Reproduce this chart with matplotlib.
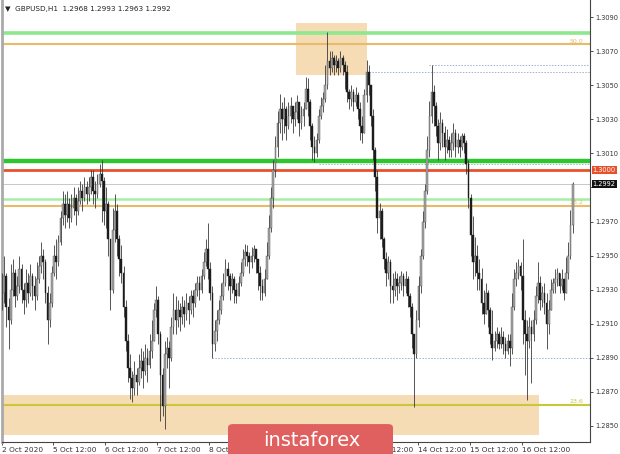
import numpy as np
import matplotlib.pyplot as plt
from matplotlib.patches import Rectangle, FancyBboxPatch

# GBPUSD H1, prices in pips above 1.2800
first_open = 128
closes = [128, 138, 120, 112, 130, 140, 126, 132, 142, 130,
          124, 134, 128, 138, 132, 126, 136, 144, 150, 146,
          128, 112, 122, 140, 150, 146, 158, 172, 180, 174,
          180, 172, 178, 184, 176, 182, 188, 184, 190, 186,
          190, 196, 188, 186, 192, 198, 194, 176, 180, 160,
          130, 165, 176, 160, 148, 140, 120, 100, 84, 78,
          72, 80, 76, 84, 88, 82, 90, 86, 94, 100,
          118, 124, 104, 80, 62, 92, 96, 90, 108, 118,
          112, 118, 114, 120, 116, 122, 118, 126, 122, 130,
          134, 130, 138, 146, 154, 142, 128, 98, 106, 112,
          118, 126, 134, 142, 138, 132, 136, 130, 126, 134,
          140, 148, 152, 150, 146, 150, 154, 148, 140, 132,
          128, 136, 150, 166, 184, 200, 214, 228, 236, 230,
          236, 226, 232, 238, 230, 234, 240, 228, 232, 236,
          248, 240, 226, 214, 210, 218, 232, 238, 242, 250,
          264, 260, 266, 262, 264, 260, 266, 262, 258, 246,
          242, 246, 240, 244, 236, 226, 222, 244, 258, 250,
          232, 212, 196, 172, 176, 160, 148, 140, 146, 132,
          130, 136, 132, 134, 138, 132, 136, 126, 120, 104,
          92, 112, 132, 150, 170, 188, 212, 232, 246, 238,
          226, 216, 228, 222, 214, 218, 212, 216, 222, 214,
          218, 214, 220, 216, 204, 184, 162, 146, 150, 140,
          136, 122, 116, 128, 118, 104, 96, 100, 104, 98,
          102, 98, 94, 100, 96, 120, 136, 140, 144, 138,
          112, 104, 100, 108, 104, 112, 126, 134, 124, 128,
          122, 110, 118, 130, 134, 136, 140, 132, 136, 128,
          140, 150, 168, 192]
highs = [140, 150, 140, 125, 145, 148, 142, 138, 150, 145,
         134, 142, 140, 145, 140, 138, 146, 150, 158, 154,
         148, 132, 128, 144, 156, 160, 162, 176, 188, 186,
         188, 184, 186, 190, 186, 190, 194, 192, 196, 194,
         196, 200, 200, 194, 198, 204, 206, 196, 190, 182,
         160, 178, 186, 180, 162, 156, 144, 124, 104, 92,
         82, 88, 84, 92, 96, 94, 98, 96, 104, 112,
         122, 132, 126, 106, 84, 100, 102, 100, 114, 128,
         126, 124, 122, 126, 124, 128, 126, 130, 130, 134,
         138, 138, 142, 152, 160, 169, 146, 132, 112, 118,
         124, 134, 140, 148, 146, 140, 140, 138, 134, 138,
         146, 154, 157, 156, 152, 155, 156, 154, 148, 144,
         136, 142, 158, 174, 190, 206, 220, 235, 245, 240,
         243, 238, 240, 243, 238, 240, 244, 240, 238, 240,
         255, 254, 242, 228, 220, 222, 236, 243, 246, 262,
         281, 270, 270, 268, 268, 266, 270, 268, 264, 262,
         248, 250, 248, 249, 246, 240, 232, 248, 265, 262,
         250, 236, 214, 200, 181, 178, 161, 152, 150, 148,
         140, 141, 140, 138, 141, 140, 141, 138, 128, 122,
         104, 118, 138, 154, 176, 192, 220, 241, 262, 250,
         240, 230, 234, 230, 226, 224, 220, 222, 228, 224,
         222, 220, 222, 222, 218, 206, 186, 173, 161, 156,
         148, 143, 130, 134, 130, 120, 118, 106, 108, 106,
         108, 106, 102, 104, 104, 128, 142, 146, 148, 146,
         160, 118, 112, 114, 112, 118, 132, 146, 138, 132,
         134, 128, 124, 136, 137, 142, 143, 140, 142, 134,
         149, 158, 177, 193]
lows = [118, 122, 108, 95, 110, 126, 120, 124, 128, 122,
        116, 120, 122, 126, 124, 118, 124, 134, 140, 136,
        122, 98, 108, 120, 138, 136, 144, 156, 168, 166,
        170, 166, 170, 174, 168, 174, 180, 176, 182, 180,
        182, 186, 180, 178, 184, 190, 170, 168, 166, 150,
        118, 128, 158, 150, 138, 134, 114, 94, 76, 66,
        64, 68, 68, 74, 78, 72, 80, 76, 84, 90,
        100, 114, 98, 53, 56, 48, 84, 72, 88, 104,
        104, 108, 106, 110, 108, 112, 110, 116, 114, 120,
        126, 124, 128, 136, 144, 136, 124, 90, 94, 100,
        110, 116, 124, 132, 130, 124, 128, 122, 122, 126,
        132, 138, 144, 144, 140, 143, 146, 140, 130, 124,
        124, 126, 136, 148, 164, 178, 196, 208, 222, 218,
        222, 218, 224, 228, 222, 226, 230, 220, 224, 226,
        236, 232, 218, 206, 205, 208, 216, 230, 234, 240,
        248, 256, 258, 256, 258, 256, 258, 256, 248, 240,
        236, 238, 235, 238, 230, 218, 216, 222, 240, 244,
        226, 206, 188, 163, 160, 155, 142, 132, 136, 122,
        122, 126, 124, 128, 130, 126, 128, 120, 114, 96,
        61, 90, 108, 128, 148, 166, 186, 208, 228, 226,
        220, 206, 212, 214, 206, 210, 208, 208, 212, 208,
        210, 208, 212, 210, 198, 178, 150, 136, 138, 130,
        130, 116, 110, 116, 108, 98, 89, 94, 96, 95,
        96, 92, 90, 92, 85, 92, 118, 132, 136, 130,
        98, 80, 65, 96, 75, 100, 110, 122, 118, 120,
        116, 95, 104, 118, 128, 128, 132, 128, 130, 124,
        128, 136, 148, 163]

tick_bars = [0, 23.5, 47.5, 71.5, 95.5, 119.5, 143.5, 167.5, 191.5, 215.5, 239.5]
tick_labels = ["2 Oct 2020", "5 Oct 12:00", "6 Oct 12:00", "7 Oct 12:00", "8 Oct 12:00",
               "9 Oct 12:00", "12 Oct 12:00", "13 Oct 12:00", "14 Oct 12:00",
               "15 Oct 12:00", "16 Oct 12:00"]
price_ticks = [1.2850, 1.2870, 1.2890, 1.2910, 1.2930, 1.2950, 1.2970,
               1.2990, 1.3010, 1.3030, 1.3050, 1.3070, 1.3090]

# levels drawn on the chart
fib_levels = [1.30740, 1.29790, 1.28623]
fib_names = ["50.0", "38.2", "23.6"]
fib_colors = ["#e8bb6a", "#e8bb6a", "#c8c83a"]
green_levels = [1.30806, 1.29832]
key_support = 1.30056
key_round = 1.30000
last_price = 1.2992
dotted_levels = [1.30618, 1.30577, 1.28900, 1.30036]
dotted_start = [197, 169, 97, 146]
zone_top = (135.5, 168.2, 1.30560, 1.30865)
zone_bottom = (0, 247.5, 1.28447, 1.28682)

to_price = lambda v: 1.28 + np.array(v) / 10000.0
c = to_price(closes)
h = to_price(highs)
l = to_price(lows)
o = np.concatenate([[1.28 + first_open / 10000.0], c[:-1]])
idx = np.arange(len(c))

fig = plt.figure(figsize=(6.2, 4.54), dpi=100)
ax = fig.add_axes([2 / 620, 12 / 454, 588 / 620, 442 / 454])
ax.set_xlim(0, 271)
ax.set_ylim(1.28406, 1.31000)

# zones
for x0, x1, y0, y1 in [zone_top, zone_bottom]:
    ax.add_patch(Rectangle((x0, y0), x1 - x0, y1 - y0, facecolor="#f5d9ac",
                           edgecolor="none", alpha=0.9, zorder=1))

# horizontal levels
for lv, st in zip(dotted_levels, dotted_start):
    ax.hlines(lv, st, 271, colors="#9bb4cc", linestyles=(0, (1.5, 1.5)), lw=0.7, zorder=2)
ax.axhline(green_levels[0], color="#8ee88e", lw=2.6, zorder=2)
ax.axhline(green_levels[1], color="#a6eea6", lw=1.8, zorder=2)
for lv, nm, col in zip(fib_levels, fib_names, fib_colors):
    ax.axhline(lv, color=col, lw=1.5, zorder=2)
    ax.text(268, lv + 0.00004, nm, color=col, fontsize=4.5, ha="right", va="bottom", zorder=2)
ax.axhline(key_support, color="#2fc52f", lw=3.2, zorder=2)
ax.axhline(key_round, color="#e8502c", lw=2.0, zorder=2)
ax.axhline(last_price, color="#c8c8c8", lw=0.7, zorder=2)

# candles
bull = c >= o
ax.vlines(idx, l, h, colors="#3a3a3a", lw=0.6, zorder=3)
body_lo = np.minimum(o, c)
body_h = np.maximum(np.abs(c - o), 0.00003)
ax.bar(idx[bull], body_h[bull], bottom=body_lo[bull], width=0.8,
       color="#a8a8a8", edgecolor="#505050", lw=0.3, zorder=4)
ax.bar(idx[~bull], body_h[~bull], bottom=body_lo[~bull], width=0.8,
       color="#1c1c1c", edgecolor="#1c1c1c", lw=0.3, zorder=4)

# axes styling
ax.yaxis.tick_right()
ax.set_yticks(price_ticks)
# 1.2990 sits under the last-price box, as on the terminal
ax.set_yticklabels(["" if abs(p - 1.2990) < 1e-6 else f"{p:.4f}" for p in price_ticks])
ax.set_xticks(tick_bars)
ax.set_xticklabels(tick_labels, ha="left")
ax.tick_params(axis="x", labelsize=5.3, colors="#333333", length=2, width=0.6, pad=1.5)
ax.tick_params(axis="y", labelsize=4.8, colors="#333333", length=2, width=0.6, pad=1.5)
ax.spines["top"].set_visible(False)
ax.spines["right"].set_color("#444444")
ax.spines["bottom"].set_color("#444444")
ax.spines["left"].set_color("#aaaaaa")
ax.spines["left"].set_linewidth(2)

# price labels on axis
for lv, txt, bg in [(key_round, "1.3000", "#e8502c"), (last_price, "1.2992", "#111111")]:
    ax.annotate(txt, xy=(1, lv), xycoords=("axes fraction", "data"), xytext=(2, 0),
                textcoords="offset points", fontsize=4.8, color="white", va="center",
                bbox=dict(boxstyle="square,pad=0.15", fc=bg, ec="none"), annotation_clip=False)

fig.text(0.008, 0.987, "\u25bc  GBPUSD,H1  1.2968 1.2993 1.2963 1.2992", fontsize=5.2,
         color="#222222", va="top", ha="left")

# watermark
fig.patches.append(FancyBboxPatch((228 / 620, -0.02), 165 / 620, 39 / 454,
                                  boxstyle="round,pad=0,rounding_size=0.008",
                                  transform=fig.transFigure, fc="#e0605f", ec="none", zorder=10))
fig.text(312 / 620, 14 / 454, "instaforex", fontsize=14, color="white",
         ha="center", va="center", zorder=11)

fig.savefig("out.png", dpi=100)
